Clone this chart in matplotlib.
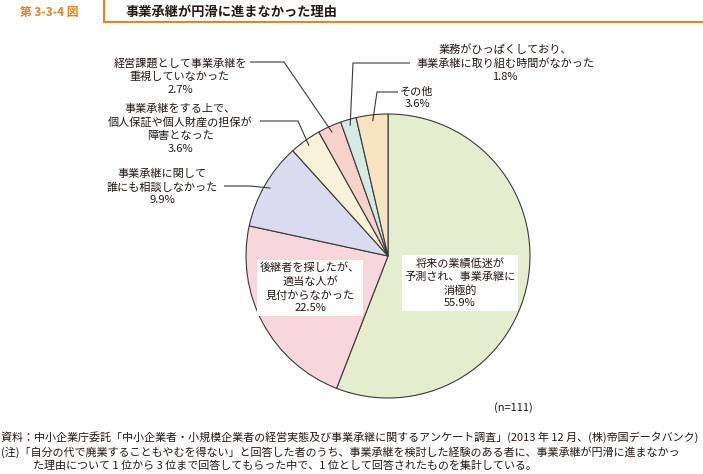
import matplotlib
matplotlib.use("Agg")
import matplotlib.pyplot as plt
import numpy as np

plt.rcParams['font.family'] = ['Noto Sans CJK JP', 'DejaVu Sans']

# ---- data ----
categories = [
    "将来の業績低迷が\n予測され、事業承継に\n消極的",
    "後継者を探したが、\n適当な人が\n見付からなかった",
    "事業承継に関して\n誰にも相談しなかった",
    "事業承継をする上で、\n個人保証や個人財産の担保が\n障害となった",
    "経営課題として事業承継を\n重視していなかった",
    "業務がひっぱくしており、\n事業承継に取り組む時間がなかった",
    "その他",
]
values = [55.9, 22.5, 9.9, 3.6, 2.7, 1.8, 3.6]
colors = ["#E4EECF", "#F7D6DC", "#D9DCEF", "#F8F2DA", "#F5D3CC", "#D5EAE2", "#F9E4C1"]

title = "事業承継が円滑に進まなかった理由"
fig_no = "第 3-3-4 図"
n_note = "(n=111)"
footer = [
    "資料：中小企業庁委託「中小企業者・小規模企業者の経営実態及び事業承継に関するアンケート調査」(2013 年 12 月、(株)帝国データバンク)",
    "(注)「自分の代で廃業することもやむを得ない」と回答した者のうち、事業承継を検討した経験のある者に、事業承継が円滑に進まなかっ",
    "た理由について 1 位から 3 位まで回答してもらった中で、1 位として回答されたものを集計している。",
]

W, H = 703, 474
fig = plt.figure(figsize=(W / 100, H / 100), dpi=100)
ax = fig.add_axes([0, 0, 1, 1])

cx, cy, R = 388, 256, 142
wedges, _ = ax.pie(values, colors=colors, startangle=-90, counterclock=True,
                   center=(cx, cy), radius=R, frame=True,
                   wedgeprops=dict(edgecolor="#3a3a3a", linewidth=0.8))
ax.set_xlim(0, W)
ax.set_ylim(H, 0)
ax.set_aspect('equal')
ax.axis('off')

fs = 8.0
ls = 1.35
txtc = "#231815"

def pct(v):
    return f"{v:.1f}%"

# inside labels
ax.text(460, 283, categories[0] + "\n" + pct(values[0]), ha='center', va='center',
        fontsize=fs, color=txtc, linespacing=ls,
        bbox=dict(facecolor='white', edgecolor='none', pad=2.0))
ax.text(310, 288, categories[1] + "\n" + pct(values[1]), ha='center', va='center',
        fontsize=fs, color=txtc, linespacing=ls,
        bbox=dict(facecolor='white', edgecolor='none', pad=2.0))

# outside labels with leader lines
def mid_point(i, frac=0.955):
    start = sum(values[:i])
    mid = (start + values[i] / 2) / 100.0
    ang = np.deg2rad(mid * 360)
    return cx + R * frac * np.sin(ang), cy - R * frac * np.cos(ang)

lc = "#3a3a3a"
outside = {
    2: dict(tx=162, ty=187, line=[(224, 186), (250, 186)]),
    3: dict(tx=180, ty=129, line=[(260, 121), (298, 121)]),
    4: dict(tx=180, ty=76, line=[(250, 62), (284, 62)]),
    5: dict(tx=505, ty=63, line=[(410, 63), (353, 63)]),
    6: dict(tx=417, ty=98, line=[(398, 92), (377, 92)]),
}
for i, d in outside.items():
    ax.text(d['tx'], d['ty'], categories[i] + "\n" + pct(values[i]), ha='center', va='center',
            fontsize=fs, color=txtc, linespacing=ls)
    px, py = mid_point(i)
    xs = [p[0] for p in d['line']] + [px]
    ys = [p[1] for p in d['line']] + [py]
    ax.plot(xs, ys, color=lc, linewidth=0.8, solid_capstyle='butt')

ax.text(513, 408, n_note, ha='center', va='center', fontsize=fs, color=txtc)

# header
orange = "#E8821E"
ax.plot([104, 104, W], [0, 22, 22], color=orange, linewidth=1.5, solid_joinstyle='miter')
ax.text(20, 12, fig_no, ha='left', va='center', fontsize=8.5, fontweight='bold', color=orange)
ax.text(126, 12, title, ha='left', va='center', fontsize=9.5, fontweight='bold', color=txtc)

# footer
ffs = 7.95
ax.text(1, 437, footer[0], ha='left', va='center', fontsize=ffs, color=txtc)
ax.text(1, 452, footer[1], ha='left', va='center', fontsize=ffs, color=txtc)
ax.text(33, 466, footer[2], ha='left', va='center', fontsize=ffs, color=txtc)

fig.savefig("out.png", dpi=100, facecolor='white')
